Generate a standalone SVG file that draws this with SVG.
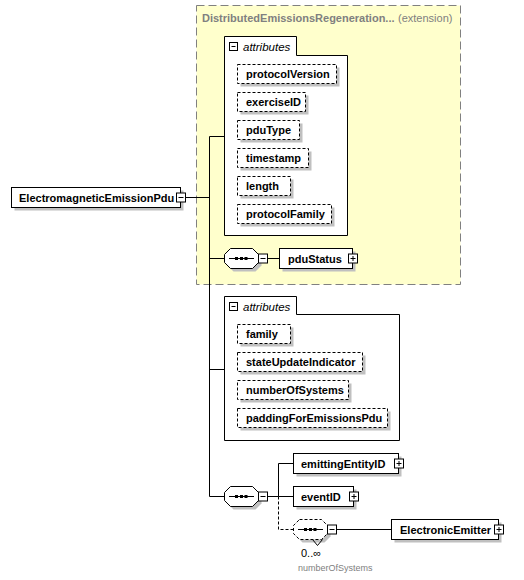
<svg xmlns="http://www.w3.org/2000/svg" width="524" height="580" viewBox="0 0 524 580">
<style>
text{font-family:"Liberation Sans",Arial,sans-serif;font-size:11px;fill:#000}
.b{font-weight:bold}
.it{font-style:italic;font-size:11.5px}
.gr{fill:#808080}
.sh{fill:#c0c0c0;stroke:none}
.box{fill:#fff;stroke:#000;stroke-width:1}
.dbox{fill:#fff;stroke:#000;stroke-width:1;stroke-dasharray:3,2}
.ln{fill:none;stroke:#000;stroke-width:1}
.dl{fill:none;stroke:#000;stroke-width:1;stroke-dasharray:3,2}
</style>
<defs>
<g id="minus"><rect class="box" x="0" y="0" width="9" height="9"/><path class="ln" d="M2,4.5H7"/></g>
<g id="plus"><rect class="box" x="0" y="0" width="9" height="9"/><path class="ln" d="M2,4.5H7M4.5,2V7"/></g>
<g id="seqdots"><path class="ln" d="M4.5,10H29.5"/><rect x="10.5" y="8.5" width="3" height="3" fill="#000"/><rect x="15.5" y="8.5" width="3" height="3" fill="#000"/><rect x="20" y="8.5" width="3" height="3" fill="#000"/></g>
<polygon id="oct" points="6,0 28,0 34,6 34,14 28,20 6,20 0,14 0,6"/>
</defs>

<g id="ext">
<rect x="196.5" y="5.5" width="264" height="279" fill="#ffffcc" stroke="#808080" stroke-dasharray="8,4"/>
<text class="b gr" x="202" y="22">DistributedEmissionsRegeneration...</text>
<text class="gr" x="398" y="22">(extension)</text>
</g>

<g id="connectors">
<path class="ln" d="M185.5,197.5H209.5M209.5,136.5V496.5M209.5,136.5H224.5M209.5,258.5H224.5M209.5,369.5H224.5M209.5,496.5H224.5"/>
<path class="ln" d="M267.5,258.5H279.5"/>
<path class="ln" d="M267.5,496.5H278.5M278.5,463.5V496.5M278.5,463.5H293.5M278.5,496.5H293.5"/>
<path class="dl" d="M278.5,496.5V529.5H293.5"/>
<path class="ln" d="M336.5,529.5H391.5"/>
</g>

<g id="ElectromagneticEmissionPdu">
<rect class="sh" x="14.5" y="190.5" width="169" height="20"/>
<rect class="box" x="11.5" y="187.5" width="169" height="20"/>
<text class="b" x="19" y="202">ElectromagneticEmissionPdu</text>
<use href="#minus" x="176.5" y="193"/>
</g>

<g id="attributes1">
<path class="box" d="M224.5,36.5H296.5V55.5H347.5V235.5H224.5Z"/>
<rect class="box" x="229.5" y="42.5" width="8" height="8"/><path class="ln" d="M231.5,46.5H235.5"/>
<text class="it" x="243" y="51">attributes</text>
</g>
<g id="protocolVersion"><rect class="sh" x="240.5" y="67.5" width="99" height="19"/><rect class="dbox" x="237.5" y="64.5" width="99" height="19"/><text class="b" x="246" y="78">protocolVersion</text></g>
<g id="exerciseID"><rect class="sh" x="240.5" y="95.5" width="68" height="19"/><rect class="dbox" x="237.5" y="92.5" width="68" height="19"/><text class="b" x="246" y="106">exerciseID</text></g>
<g id="pduType"><rect class="sh" x="240.5" y="123.5" width="62" height="19"/><rect class="dbox" x="237.5" y="120.5" width="62" height="19"/><text class="b" x="246" y="134">pduType</text></g>
<g id="timestamp"><rect class="sh" x="240.5" y="151.5" width="71" height="19"/><rect class="dbox" x="237.5" y="148.5" width="71" height="19"/><text class="b" x="246" y="162">timestamp</text></g>
<g id="length"><rect class="sh" x="240.5" y="179.5" width="53" height="19"/><rect class="dbox" x="237.5" y="176.5" width="53" height="19"/><text class="b" x="246" y="190">length</text></g>
<g id="protocolFamily"><rect class="sh" x="240.5" y="207.5" width="94" height="19"/><rect class="dbox" x="237.5" y="204.5" width="94" height="19"/><text class="b" x="246" y="218">protocolFamily</text></g>

<g id="sequence1">
<use href="#oct" x="227.5" y="251.5" class="sh"/>
<use href="#oct" x="224.5" y="248.5" fill="#fff" stroke="#000"/>
<use href="#seqdots" x="224.5" y="248.5"/>
<use href="#minus" x="258.5" y="254"/>
</g>

<g id="pduStatus">
<rect class="sh" x="282.5" y="251.5" width="73" height="20"/>
<rect class="box" x="279.5" y="248.5" width="73" height="20"/>
<text class="b" x="288" y="263">pduStatus</text>
<use href="#plus" x="348.5" y="254"/>
</g>

<g id="attributes2">
<path class="box" d="M224.5,296.5H296.5V314.5H399.5V440.5H224.5Z"/>
<rect class="box" x="229.5" y="302.5" width="8" height="8"/><path class="ln" d="M231.5,306.5H235.5"/>
<text class="it" x="243" y="311">attributes</text>
</g>
<g id="family"><rect class="sh" x="240.5" y="327.5" width="53" height="19"/><rect class="dbox" x="237.5" y="324.5" width="53" height="19"/><text class="b" x="246" y="338">family</text></g>
<g id="stateUpdateIndicator"><rect class="sh" x="240.5" y="355.5" width="125" height="19"/><rect class="dbox" x="237.5" y="352.5" width="125" height="19"/><text class="b" x="246" y="366">stateUpdateIndicator</text></g>
<g id="numberOfSystems"><rect class="sh" x="240.5" y="383.5" width="111" height="19"/><rect class="dbox" x="237.5" y="380.5" width="111" height="19"/><text class="b" x="246" y="394">numberOfSystems</text></g>
<g id="paddingForEmissionsPdu"><rect class="sh" x="240.5" y="411.5" width="150" height="19"/><rect class="dbox" x="237.5" y="408.5" width="150" height="19"/><text class="b" x="246" y="422">paddingForEmissionsPdu</text></g>

<g id="sequence2">
<use href="#oct" x="227.5" y="489.5" class="sh"/>
<use href="#oct" x="224.5" y="486.5" fill="#fff" stroke="#000"/>
<use href="#seqdots" x="224.5" y="486.5"/>
<use href="#minus" x="258.5" y="492"/>
</g>

<g id="emittingEntityID">
<rect class="sh" x="296.5" y="456.5" width="105" height="20"/>
<rect class="box" x="293.5" y="453.5" width="105" height="20"/>
<text class="b" x="301" y="468">emittingEntityID</text>
<use href="#plus" x="394.5" y="459"/>
</g>

<g id="eventID">
<rect class="sh" x="296.5" y="489.5" width="60" height="20"/>
<rect class="box" x="293.5" y="486.5" width="60" height="20"/>
<text class="b" x="301" y="501">eventID</text>
<use href="#plus" x="349.5" y="492"/>
</g>

<g id="sequence3">
<use href="#oct" x="296.5" y="522.5" class="sh"/>
<use href="#oct" x="293.5" y="519.5" fill="#fff" stroke="#000" stroke-dasharray="3,2"/>
<use href="#seqdots" x="293.5" y="519.5"/>
<path class="ln" d="M312.5,539.5L317.5,545.5L322.5,539.5"/>
<use href="#minus" x="327.5" y="525"/>
<text x="301" y="557">0..∞</text>
<text class="gr" x="298" y="571" style="font-size:9px">numberOfSystems</text>
</g>

<g id="ElectronicEmitter">
<rect class="sh" x="394.5" y="522.5" width="107" height="20"/>
<rect class="box" x="391.5" y="519.5" width="107" height="20"/>
<text class="b" x="400" y="534">ElectronicEmitter</text>
<use href="#plus" x="494.5" y="525"/>
</g>
</svg>
